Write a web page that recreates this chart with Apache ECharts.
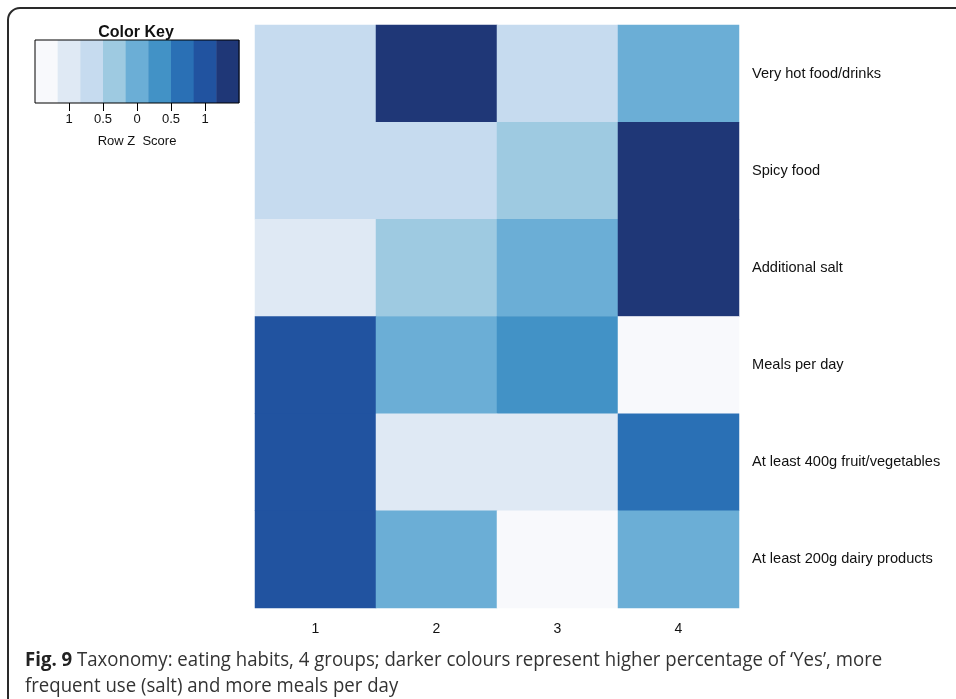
<!DOCTYPE html>
<html>
<head>
<meta charset="utf-8">
<script src="https://cdn.jsdelivr.net/npm/echarts@6/dist/echarts.min.js"></script>
<style>
  html, body { margin: 0; padding: 0; background: #fff; }
  #chart { width: 956px; height: 699px; }
</style>
</head>
<body>
<div id="chart"></div>
<script>
// Groups (columns) and eating-habit variables (rows, top to bottom)
const groups = ['1', '2', '3', '4'];
const habits = [
  'Very hot food/drinks',
  'Spicy food',
  'Additional salt',
  'Meals per day',
  'At least 400g fruit/vegetables',
  'At least 200g dairy products'
];

// Row Z scores per habit, one value per group
const zVeryHot   = [-0.66, 1.45, -0.66, -0.12];
const zSpicy     = [-0.62, -0.62, -0.26, 1.50];
const zSalt      = [-1.00, -0.40, -0.05, 1.45];
const zMeals     = [1.00, 0.00, 0.30, -1.30];
const zFruitVeg  = [1.00, -0.85, -0.85, 0.70];
const zDairy     = [1.10, 0.10, -1.30, 0.10];

// Colour key: bin edges, bin colours and tick labels
const keyBreaks = [-1.5, -1.1667, -0.8333, -0.5, -0.1667, 0.1667, 0.5, 0.8333, 1.1667, 1.5];
const keyColors = ['#F8F9FC', '#DFE9F4', '#C6DBEF', '#9ECAE1', '#6BAED6', '#4292C6', '#2A70B5', '#2153A0', '#1F3777'];
const keyTicks = [-1, -0.5, 0, 0.5, 1];
const keyTickLabels = ['1', '0.5', '0', '0.5', '1'];

const rows = [zVeryHot, zSpicy, zSalt, zMeals, zFruitVeg, zDairy];
const cells = [];
rows.forEach((vals, r) => vals.forEach((v, c) => cells.push([c, r, v])));

const pieces = keyColors.map((color, i) => ({
  gte: keyBreaks[i], lt: keyBreaks[i + 1] + (i === keyColors.length - 1 ? 0.01 : 0), color
}));

const keyData = keyColors.map((c, i) => [keyBreaks[i], keyBreaks[i + 1], i]);

const labelFont = 'Liberation Sans, Arial, Helvetica, sans-serif';
const captionFont = 'Open Sans, Noto Sans, sans-serif';

const chart = echarts.init(document.getElementById('chart'), null, { renderer: 'canvas' });

chart.setOption({
  animation: false,
  backgroundColor: '#ffffff',
  grid: [
    { left: 255, top: 25, width: 484, height: 583, show: false },
    { left: 35, top: 40, width: 204, height: 63, show: true, borderColor: '#000', borderWidth: 1, backgroundColor: 'transparent', z: 3 }
  ],
  xAxis: [
    {
      type: 'category', data: groups, gridIndex: 0,
      axisLine: { show: false }, axisTick: { show: false }, splitLine: { show: false },
      axisLabel: { color: '#111', fontSize: 14, fontFamily: labelFont, margin: 14 }
    },
    {
      type: 'value', gridIndex: 1, min: -1.5, max: 1.5,
      axisLine: { show: false }, splitLine: { show: false },
      axisTick: { show: true, customValues: keyTicks, length: 8, lineStyle: { color: '#000', width: 1 } },
      axisLabel: {
        customValues: keyTicks, color: '#111', fontSize: 13, fontFamily: labelFont, margin: 10,
        formatter: v => keyTickLabels[keyTicks.indexOf(v)]
      },
      name: 'Row Z  Score', nameLocation: 'middle', nameGap: 32,
      nameTextStyle: { color: '#111', fontSize: 13, fontFamily: labelFont }
    }
  ],
  yAxis: [
    {
      type: 'category', data: habits, gridIndex: 0, inverse: true, position: 'right',
      axisLine: { show: false }, axisTick: { show: false }, splitLine: { show: false },
      axisLabel: { color: '#111', fontSize: 14.6, fontFamily: labelFont, margin: 13, align: 'left' }
    },
    { type: 'value', gridIndex: 1, min: 0, max: 1, show: false }
  ],
  visualMap: {
    type: 'piecewise', show: false, seriesIndex: 0, dimension: 2, pieces
  },
  series: [
    {
      type: 'heatmap', xAxisIndex: 0, yAxisIndex: 0, data: cells,
      itemStyle: { borderWidth: 0 }, emphasis: { disabled: true }
    },
    {
      type: 'custom', xAxisIndex: 1, yAxisIndex: 1, data: keyData, silent: true,
      renderItem: (params, api) => {
        const p0 = api.coord([api.value(0), 1]);
        const p1 = api.coord([api.value(1), 0]);
        return {
          type: 'rect',
          shape: { x: p0[0], y: p0[1], width: p1[0] - p0[0] + 0.5, height: p1[1] - p0[1] },
          style: { fill: keyColors[api.value(2)] }
        };
      }
    }
  ],
  graphic: [
    {
      type: 'rect', silent: true,
      shape: { x: 8, y: 8, width: 1100, height: 1100, r: 12 },
      style: { fill: 'none', stroke: '#2a2a2a', lineWidth: 2 }
    },
    {
      type: 'text', x: 136, y: 33,
      style: { text: 'Color Key', fill: '#111', font: 'bold 16px ' + labelFont, align: 'center', verticalAlign: 'middle' }
    },
    {
      type: 'text', x: 25, y: 647, scaleX: 0.93,
      style: {
        text: '{b|Fig. 9} Taxonomy: eating habits, 4 groups; darker colours represent higher percentage of \u2018Yes\u2019, more\nfrequent use (salt) and more meals per day',
        fill: '#333', font: '20px ' + captionFont, lineHeight: 26,
        rich: { b: { fontWeight: 'bold', fill: '#222', fontSize: 20, fontFamily: captionFont, lineHeight: 26 } }
      }
    }
  ]
});
</script>
</body>
</html>
